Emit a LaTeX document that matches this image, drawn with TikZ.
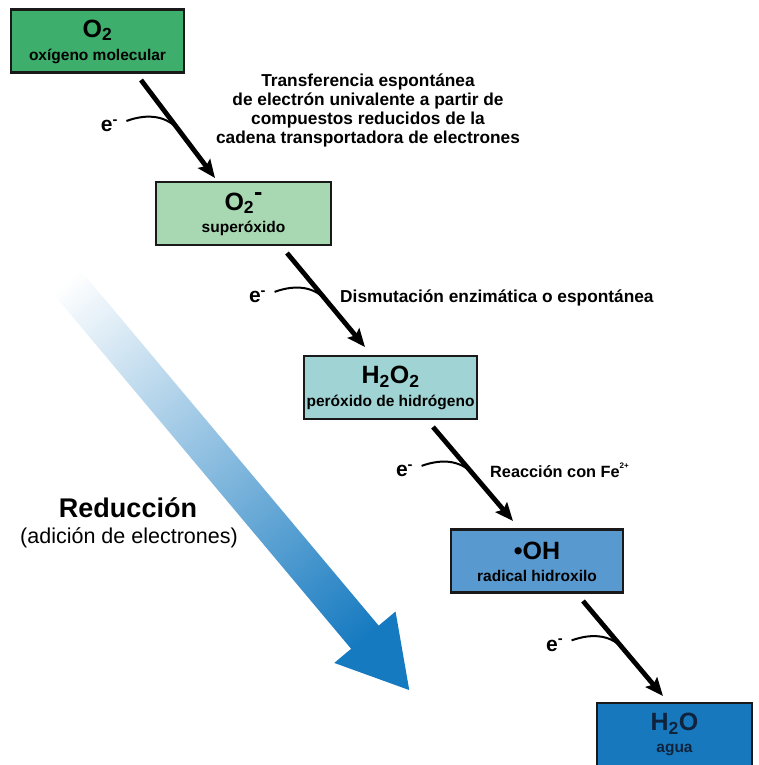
\documentclass[tikz,border=0pt]{standalone}
\usepackage{fontspec}
\setmainfont{Liberation Sans}
\usetikzlibrary{arrows.meta,calc}
\definecolor{cA}{RGB}{62,174,108}
\definecolor{cB}{RGB}{168,216,178}
\definecolor{cC}{RGB}{160,212,212}
\definecolor{cD}{RGB}{88,154,208}
\definecolor{cE}{RGB}{24,120,190}
\definecolor{arrowblue}{RGB}{22,122,192}
\definecolor{navytext}{RGB}{15,35,60}
\begin{document}
\begin{tikzpicture}[x=1pt,y=-1pt,
  box/.style={draw=black!90, line width=2.2pt, minimum height=63pt, inner sep=0pt},
  ttl/.style={font=\bfseries\fontsize{25}{27}\selectfont, inner sep=0pt},
  sub/.style={font=\bfseries\fontsize{15.5}{17}\selectfont, inner sep=0pt},
  desc/.style={font=\bfseries\fontsize{17.3}{19}\selectfont, align=center, inner sep=0pt},
  elec/.style={font=\bfseries\fontsize{21}{23}\selectfont, inner sep=0pt},
  react/.style={line width=4.8pt, -{Stealth[length=18pt,width=15pt,inset=3pt]}},
  ecurve/.style={line width=2pt},
]
\useasboundingbox (0,0) rectangle (758,765);

% big gradient arrow
\begin{scope}[transform canvas={shift={(66,281)},rotate=-50}]
  \shade[left color=white, right color=arrowblue] (0,-18) rectangle (466,18);
  \fill[arrowblue] (465,-40) -- (534,0) -- (465,40) -- cycle;
\end{scope}

\node[font=\bfseries\fontsize{27}{29}\selectfont] (red) at (128,508) {Reducción};
\node[font=\fontsize{21.5}{24}\selectfont] (red2) at (129,538) {(adición de electrones)};

% boxes
\node[box, fill=cA, minimum width=173pt] (b1) at (97.5,41) {};
\node[ttl] (b1t) at ($(b1.north)+(0,22)$) {O\textsubscript{2}};
\node[sub] (b1s) at ($(b1.north)+(0,48)$) {oxígeno molecular};

\node[box, fill=cB, minimum width=175pt] (b2) at (243.5,213.5) {};
\node[ttl] (b2t) at ($(b2.north)+(0,22)$) {O\textsubscript{2}\raisebox{0.4em}{-}};
\node[sub] (b2s) at ($(b2.north)+(0,48)$) {superóxido};

\node[box, fill=cC, minimum width=173pt] (b3) at (390.5,387.5) {};
\node[ttl] (b3t) at ($(b3.north)+(0,22)$) {H\textsubscript{2}O\textsubscript{2}};
\node[sub] (b3s) at ($(b3.north)+(0,48)$) {peróxido de hidrógeno};

\node[box, fill=cD, minimum width=172pt] (b4) at (537,561) {};
\node[ttl] (b4t) at ($(b4.north)+(0,22)$) {•OH};
\node[sub] (b4s) at ($(b4.north)+(0,48)$) {radical hidroxilo};

\node[box, fill=cE, minimum width=155pt] (b5) at (674.5,734.5) {};
\node[ttl, text=navytext] (b5t) at ($(b5.north)+(0,22)$) {H\textsubscript{2}O};
\node[sub, text=navytext] (b5s) at ($(b5.north)+(0,48)$) {agua};

% descriptions
\node[desc] (d1) at (368,110) {Transferencia espontánea\\de electrón univalente a partir de\\compuestos reducidos de la\\cadena transportadora de electrones};
\node[desc, anchor=west] (d2) at (340,298) {Dismutación enzimática o espontánea};
\node[desc, anchor=west, font=\bfseries\fontsize{16.3}{19}\selectfont] (d3) at (490,470) {Reacción con Fe\raisebox{0.55em}{\fontsize{8}{8}\selectfont 2+}};

% reaction arrows
\coordinate (s1) at (141,80);  \coordinate (t1) at (215,178);
\coordinate (s2) at (287,253); \coordinate (t2) at (365,347);
\coordinate (s3) at (433,427); \coordinate (t3) at (513,521);
\coordinate (s4) at (583,601); \coordinate (t4) at (663,696);

\foreach \i in {1,...,4} {
  \coordinate (j\i) at ($(s\i)!0.52!(t\i)$);
  \coordinate (c\i) at ($(j\i)+(-53,-10)$);
  \draw[ecurve] (c\i) .. controls +(22,-8) and +(-12,-15) .. (j\i);
  \node[elec] (e\i) at ($(c\i)+(-17,5)$) {e\textsuperscript{-}};
  \draw[react] (s\i) -- (t\i);
}
\end{tikzpicture}
\end{document}
